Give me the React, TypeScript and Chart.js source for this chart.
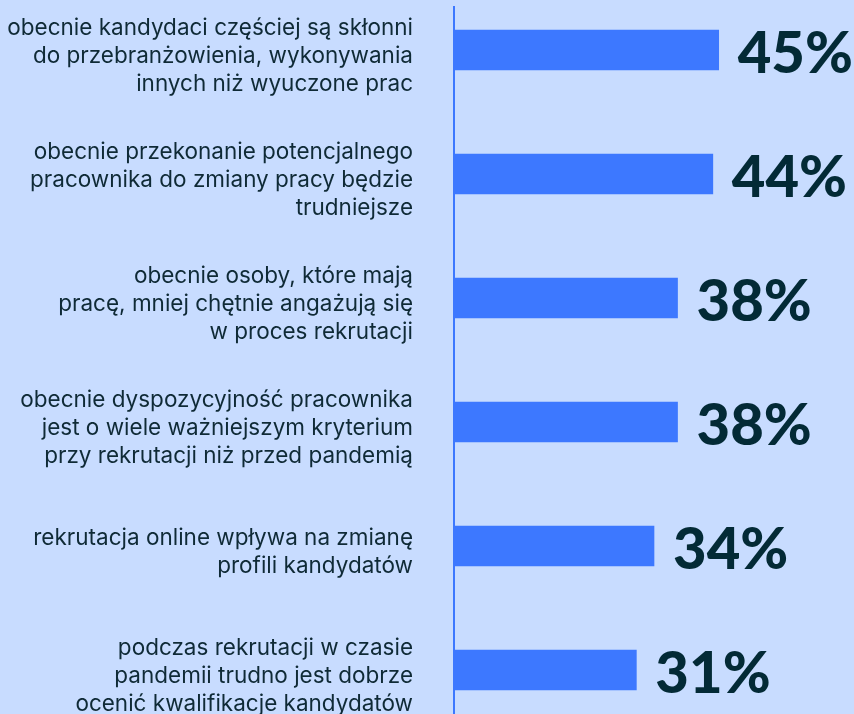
import React, { useEffect, useRef } from "react";
import { Chart, registerables } from "chart.js";

Chart.register(...registerables);

const categories: string[][] = [
  ["obecnie kandydaci częściej są skłonni", "do przebranżowienia, wykonywania", "innych niż wyuczone prac"],
  ["obecnie przekonanie potencjalnego", "pracownika do zmiany pracy będzie", "trudniejsze"],
  ["obecnie osoby, które mają", "pracę, mniej chętnie angażują się", "w proces rekrutacji"],
  ["obecnie dyspozycyjność pracownika", "jest o wiele ważniejszym kryterium", "przy rekrutacji niż przed pandemią"],
  ["rekrutacja online wpływa na zmianę", "profili kandydatów"],
  ["podczas rekrutacji w czasie", "pandemii trudno jest dobrze", "ocenić kwalifikacje kandydatów"],
];
const values: number[] = [45, 44, 38, 38, 34, 31];

const BG = "#c8dcff";
const BAR = "#3d78ff";
const TEXT = "#0f2a36";
const VALUE_TEXT = "#032a36";

export default function App() {
  const ref = useRef<HTMLCanvasElement | null>(null);
  useEffect(() => {
    if (!ref.current) return;
    const valueLabels = {
      id: "valueLabels",
      afterDatasetsDraw(chart: any) {
        const ctx = chart.ctx;
        const meta = chart.getDatasetMeta(0);
        ctx.save();
        ctx.fillStyle = VALUE_TEXT;
        ctx.font = "900 58px Lato";
        ctx.textAlign = "left";
        ctx.textBaseline = "middle";
        meta.data.forEach((bar: any, i: number) => {
          ctx.fillText(values[i] + "%", bar.x + 19, bar.y + 4);
        });
        ctx.restore();
      },
    };
    const chart = new Chart(ref.current, {
      type: "bar",
      data: {
        datasets: [
          {
            data: values.map((v, i) => ({ x: v, y: i })) as any,
            backgroundColor: BAR,
            borderWidth: 0,
            barThickness: 40,
          },
        ],
      },
      options: {
        indexAxis: "y",
        animation: false,
        responsive: false,
        layout: { padding: { top: 7, left: 0, right: 0, bottom: 0 } },
        plugins: { legend: { display: false }, tooltip: { enabled: false } },
        scales: {
          x: { type: "linear", min: 0, max: 68, display: false },
          y: {
            type: "linear",
            offset: false,
            min: -0.347,
            max: 5.355,
            reverse: true,
            grid: { display: false },
            border: { display: true, color: BAR, width: 2 },
            afterBuildTicks: (s: any) => {
              s.ticks = categories.map((_, i) => ({ value: i }));
            },
            afterFit: (s: any) => {
              s.width = 454;
              s.paddingTop = 0;
              s.paddingBottom = 0;
            },
            ticks: {
              padding: 33,
              labelOffset: 6,
              color: TEXT,
              font: { family: "Inter", size: 22.5, lineHeight: 1.245 },
              callback: (v: any) => (Number.isInteger(v) ? categories[v] : ""),
            },
          },
        },
      },
      plugins: [valueLabels],
    });
    return () => chart.destroy();
  }, []);
  return (
    <div style={{ position: "fixed", left: 0, top: 0, width: 854, height: 714, background: BG }}>
      <canvas ref={ref} width={854} height={714} />
    </div>
  );
}
